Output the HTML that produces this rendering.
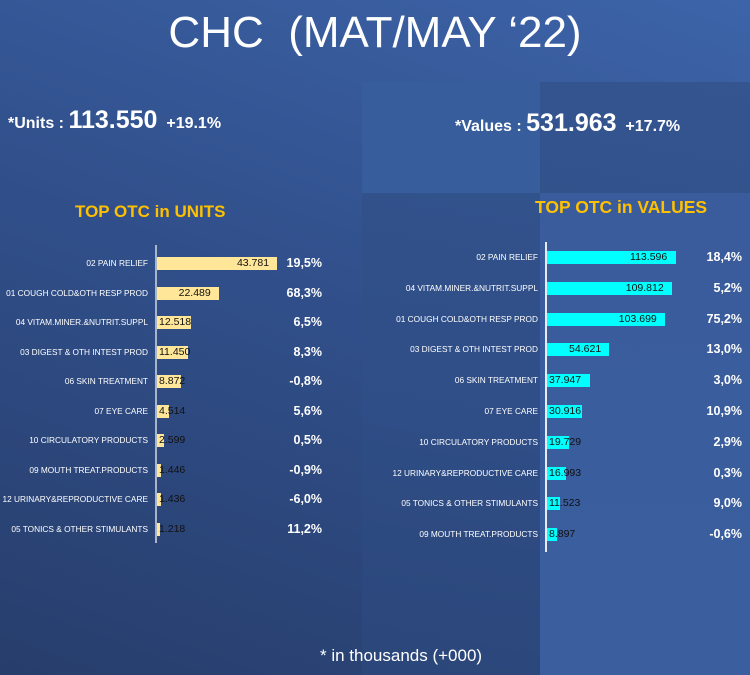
<!DOCTYPE html>
<html><head><meta charset="utf-8"><style>
body{margin:0;width:750px;height:675px;overflow:hidden;font-family:"Liberation Sans",sans-serif;}
.bg{position:absolute;left:0;top:0;width:750px;height:675px;background:linear-gradient(200deg,#3d64a9 0%,#31508c 45%,#273e6c 100%);}
.p{position:absolute}
.t{position:absolute;color:#fff;white-space:nowrap}
.lab{position:absolute;font-size:8.3px;color:#fff;text-align:right;white-space:nowrap;line-height:10px}
.bar{position:absolute;height:13px}
.val{position:absolute;font-size:10.5px;color:#111;white-space:nowrap;line-height:13px}
.pct{position:absolute;font-size:12.5px;color:#fff;font-weight:bold;text-align:right;width:60px;white-space:nowrap;line-height:14px}
</style></head><body>
<div class="bg"></div>
<div class="p" style="left:362px;top:82px;width:388px;height:593px;background:linear-gradient(190deg,#345590,#2f4d86 60%,#2b4679);"></div>
<div class="p" style="left:362px;top:82px;width:178px;height:111px;background:#3a5f9f;opacity:.85"></div>
<div class="p" style="left:540px;top:193px;width:210px;height:482px;background:linear-gradient(180deg,#3a5c9c,#3a5e9e);"></div>
<div class="t" style="left:0;width:750px;text-align:center;top:8px;font-size:44px;font-weight:300;">CHC&nbsp; (MAT/MAY ‘22)</div>
<div class="t" style="left:8px;top:106px;font-size:16px;font-weight:bold;">*Units : <span style="font-size:25px">113.550</span>&nbsp; +19.1%</div>
<div class="t" style="left:455px;top:109px;font-size:16px;font-weight:bold;">*Values : <span style="font-size:25px">531.963</span>&nbsp; +17.7%</div>
<div class="t" style="left:75px;top:202px;font-size:17px;font-weight:bold;color:#ffc000">TOP OTC in UNITS</div>
<div class="t" style="left:535px;top:197px;font-size:17.5px;font-weight:bold;color:#ffc000">TOP OTC in VALUES</div>
<div class="p" style="left:155px;top:245px;width:2px;height:298px;background:#a8b4c8"></div>
<div class="p" style="left:545px;top:242px;width:2px;height:310px;background:#e6ebf2"></div>
<div id="L"></div><div id="R"></div>
<div class="t" style="left:320px;top:646px;font-size:17px;">* in thousands (+000)</div>
<script>
var L=[["02 PAIN RELIEF",43781,"43.781","19,5%"],["01 COUGH COLD&OTH RESP PROD",22489,"22.489","68,3%"],["04 VITAM.MINER.&NUTRIT.SUPPL",12518,"12.518","6,5%"],["03 DIGEST & OTH INTEST PROD",11450,"11.450","8,3%"],["06 SKIN TREATMENT",8872,"8.872","-0,8%"],["07 EYE CARE",4514,"4.514","5,6%"],["10 CIRCULATORY PRODUCTS",2599,"2.599","0,5%"],["09 MOUTH TREAT.PRODUCTS",1446,"1.446","-0,9%"],["12 URINARY&REPRODUCTIVE CARE",1436,"1.436","-6,0%"],["05 TONICS & OTHER STIMULANTS",1218,"1.218","11,2%"]];
var R=[["02 PAIN RELIEF",113596,"113.596","18,4%"],["04 VITAM.MINER.&NUTRIT.SUPPL",109812,"109.812","5,2%"],["01 COUGH COLD&OTH RESP PROD",103699,"103.699","75,2%"],["03 DIGEST & OTH INTEST PROD",54621,"54.621","13,0%"],["06 SKIN TREATMENT",37947,"37.947","3,0%"],["07 EYE CARE",30916,"30.916","10,9%"],["10 CIRCULATORY PRODUCTS",19729,"19.729","2,9%"],["12 URINARY&REPRODUCTIVE CARE",16993,"16.993","0,3%"],["05 TONICS & OTHER STIMULANTS",11523,"11.523","9,0%"],["09 MOUTH TREAT.PRODUCTS",8897,"8.897","-0,6%"]];
function draw(d,id,ax,y0,dy,sc,col,pr){var h="";d.forEach(function(r,i){var y=y0+i*dy;var w=Math.max(3,r[1]*sc);
h+='<div class="lab" style="right:'+(750-ax+8)+'px;top:'+(y-5)+'px">'+r[0].replace(/&/g,"&amp;")+'</div>';
h+='<div class="bar" style="left:'+(ax+1)+'px;top:'+(y-6)+'px;width:'+w+'px;background:'+col+'"></div>';
var vx=w>45?ax+1+w-40-(r[2].length>6?6:0):ax+3;
h+='<div class="val" style="left:'+vx+'px;top:'+(y-6)+'px">'+r[2]+'</div>';
h+='<div class="pct" style="left:'+(pr-60)+'px;top:'+(y-7)+'px">'+r[3]+'</div>';});
document.getElementById(id).innerHTML=h;}
draw(L,"L",156,263,29.5,0.00274,"#ffe699",322);
draw(R,"R",546,257,30.8,0.001136,"#00ffff",742);
</script>
</body></html>
